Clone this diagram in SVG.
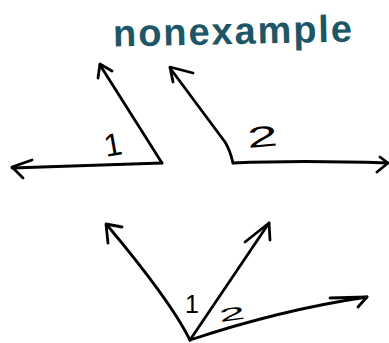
<svg xmlns="http://www.w3.org/2000/svg" width="389" height="343" viewBox="0 0 389 343">
<style>
.ln{fill:none;stroke:#000;stroke-width:2.8;stroke-linecap:round;stroke-linejoin:round}
.lbl{font-family:"Liberation Sans",Arial,sans-serif;fill:#000}
.title{font-family:"Liberation Sans",Arial,sans-serif;font-weight:bold;fill:#1d5667}
</style>
<rect width="389" height="343" fill="#fff"/>
<g id="title">
<text class="title" x="113" y="44" font-size="38" textLength="239" lengthAdjust="spacing" transform="rotate(-1.2 232 33)">nonexample</text>
</g>
<g id="connectors">
<!-- top-left angle -->
<path class="ln" d="M162,163 L12,168"/>
<path class="ln" d="M32,160 L12,167 L23,178"/>
<path class="ln" d="M162,163 L100,65"/>
<path class="ln" d="M98,78 L100,64 L112,71"/>
<!-- top-right angle -->
<path class="ln" d="M233,163 Q230,150 225,142 L170,68"/>
<path class="ln" d="M173,82 L170,67 L193,73"/>
<path class="ln" d="M233,163 Q300,160 388,163"/>
<path class="ln" d="M380,157 L388,163 L377,172"/>
<!-- bottom angles -->
<path class="ln" d="M190,340 Q170,300 107,225"/>
<path class="ln" d="M108,243 L106,224 L122,227"/>
<path class="ln" d="M190,340 L269,223"/>
<path class="ln" d="M245,242 L269,223 L270,240"/>
<path class="ln" d="M190,340 Q280,310 367,297"/>
<path class="ln" d="M330,298 L367,297 L358,307"/>
</g>
<g id="label-1-top">
<text class="lbl" font-size="32" transform="translate(106 157) rotate(-10)">1</text>
</g>
<g id="label-2-top">
<text class="lbl" font-size="29" transform="translate(248 148) rotate(-5) scale(1.9 1)">2</text>
</g>
<g id="label-1-bottom">
<text class="lbl" x="185" y="313" font-size="25">1</text>
</g>
<g id="label-2-bottom">
<text class="lbl" font-size="18" transform="translate(220 322) rotate(-8) scale(2.6 1)">2</text>
</g>
</svg>
